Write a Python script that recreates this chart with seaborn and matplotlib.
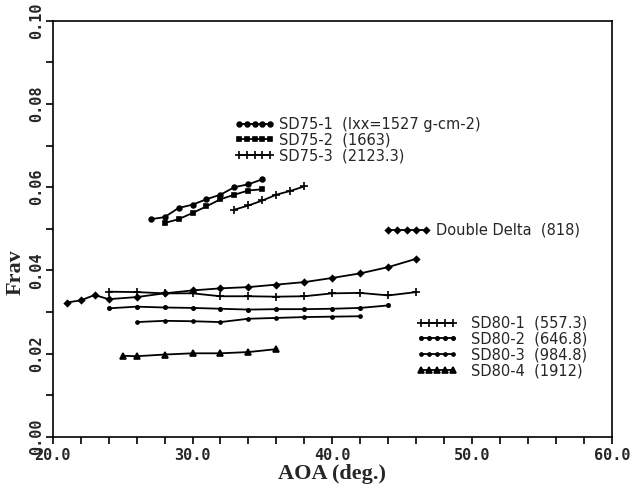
import matplotlib
matplotlib.use("Agg")
import matplotlib.pyplot as plt
import seaborn as sns
from matplotlib.ticker import MultipleLocator, FormatStrFormatter

sns.set_style("ticks")
plt.rcParams["font.family"] = ["DejaVu Sans"]

# ---- averaged roll-damping coefficient vs angle of attack ----
aoa_sd75_1 = [27, 28, 29, 30, 31, 32, 33, 34, 35]
frav_sd75_1 = [0.0523, 0.0528, 0.0550, 0.0558, 0.0571, 0.0582, 0.0600, 0.0607, 0.0619]

aoa_sd75_2 = [28, 29, 30, 31, 32, 33, 34, 35]
frav_sd75_2 = [0.0514, 0.0523, 0.0538, 0.0554, 0.0571, 0.0582, 0.0592, 0.0595]

aoa_sd75_3 = [33, 34, 35, 36, 37, 38]
frav_sd75_3 = [0.0546, 0.0556, 0.0568, 0.0582, 0.0591, 0.0602]

aoa_dd = [21, 22, 23, 24, 26, 28, 30, 32, 34, 36, 38, 40, 42, 44, 46]
frav_dd = [0.0323, 0.0328, 0.0341, 0.0331, 0.0336, 0.0345, 0.0352, 0.0357,
           0.0360, 0.0366, 0.0372, 0.0382, 0.0393, 0.0408, 0.0428]

aoa_sd80_1 = [24, 26, 28, 30, 32, 34, 36, 38, 40, 42, 44, 46]
frav_sd80_1 = [0.0349, 0.0348, 0.0345, 0.0345, 0.0338, 0.0338, 0.0337, 0.0338,
               0.0345, 0.0346, 0.0340, 0.0348]

aoa_sd80_2 = [24, 26, 28, 30, 32, 34, 36, 38, 40, 42, 44]
frav_sd80_2 = [0.0309, 0.0313, 0.0311, 0.0310, 0.0308, 0.0306, 0.0307, 0.0307,
               0.0308, 0.0310, 0.0316]

aoa_sd80_3 = [26, 28, 30, 32, 34, 36, 38, 40, 42]
frav_sd80_3 = [0.0276, 0.0279, 0.0278, 0.0276, 0.0284, 0.0286, 0.0288, 0.0289, 0.0290]

aoa_sd80_4 = [25, 26, 28, 30, 32, 34, 36]
frav_sd80_4 = [0.0195, 0.0194, 0.0198, 0.0201, 0.0201, 0.0204, 0.0211]

names = ["SD75-1", "SD75-2", "SD75-3", "Double Delta",
         "SD80-1", "SD80-2", "SD80-3", "SD80-4"]
notes = ["(Ixx=1527 g-cm-2)", "(1663)", "(2123.3)", "(818)",
         "(557.3)", "(646.8)", "(984.8)", "(1912)"]

x_ticks = [20.0, 30.0, 40.0, 50.0, 60.0]
y_ticks = [0.00, 0.02, 0.04, 0.06, 0.08, 0.10]

series = [
    (aoa_sd75_1, frav_sd75_1, "o", 3.4),
    (aoa_sd75_2, frav_sd75_2, "s", 3.2),
    (aoa_sd75_3, frav_sd75_3, "+", 5.5),
    (aoa_dd, frav_dd, "D", 3.0),
    (aoa_sd80_1, frav_sd80_1, "+", 5.5),
    (aoa_sd80_2, frav_sd80_2, "o", 2.4),
    (aoa_sd80_3, frav_sd80_3, "o", 2.2),
    (aoa_sd80_4, frav_sd80_4, "^", 5.0),
]

fig = plt.figure(figsize=(6.34, 4.91), dpi=100)
ax = fig.add_axes([0.0831, 0.110, 0.8822, 0.848])

lines = []
for (xs, ys, mk, ms), name, note in zip(series, names, notes):
    sns.lineplot(x=xs, y=ys, ax=ax, color="black", linewidth=1.3,
                 marker=mk, markersize=ms, markeredgecolor="black",
                 markeredgewidth=1.2, sort=False, label=f"{name}  {note}")
    lines.append(ax.get_lines()[-1])

ax.set_xlim(x_ticks[0], x_ticks[-1])
ax.set_ylim(y_ticks[0], y_ticks[-1])
ax.xaxis.set_major_locator(MultipleLocator(10))
ax.xaxis.set_minor_locator(MultipleLocator(2))
ax.yaxis.set_major_locator(MultipleLocator(0.02))
ax.yaxis.set_minor_locator(MultipleLocator(0.01))
ax.xaxis.set_major_formatter(FormatStrFormatter("%.1f"))
ax.yaxis.set_major_formatter(FormatStrFormatter("%.2f"))

ax.tick_params(which="both", direction="out", length=5, width=1.2, color="black")
ax.tick_params(axis="x", pad=3, labelsize=11)
ax.tick_params(axis="y", pad=1, labelsize=11, labelrotation=90)
for lbl in ax.get_xticklabels() + ax.get_yticklabels():
    lbl.set_fontfamily("DejaVu Sans Mono")
    lbl.set_fontweight("bold")
for lbl in ax.get_yticklabels():
    lbl.set_va("center")

for sp in ax.spines.values():
    sp.set_visible(True)
    sp.set_color("black")
    sp.set_linewidth(1.2)

ax.set_xlabel("AOA (deg.)", family="Liberation Serif", weight="bold", fontsize=16)
ax.set_ylabel("Frav", family="Liberation Serif", weight="bold", fontsize=16)
ax.xaxis.label.set_va("center")
ax.yaxis.label.set_va("center")
ax.xaxis.set_label_coords(0.5, -0.090)
ax.yaxis.set_label_coords(-0.066, 0.396)

legend_kw = dict(frameon=False, numpoints=5, fontsize=10.5, borderpad=0,
                 borderaxespad=0, labelspacing=0.05, loc="upper left")
leg1 = ax.legend(handles=lines[0:3], bbox_to_anchor=(0.326, 0.769),
                 handlelength=2.7, handletextpad=0.3, **legend_kw)
ax.add_artist(leg1)
leg2 = ax.legend(handles=lines[3:4], bbox_to_anchor=(0.591, 0.514),
                 handlelength=3.2, handletextpad=0.45, **legend_kw)
ax.add_artist(leg2)
ax.legend(handles=lines[4:8], bbox_to_anchor=(0.651, 0.291),
          handlelength=2.8, handletextpad=0.9, **legend_kw)

fig.savefig("out.png", dpi=100)
